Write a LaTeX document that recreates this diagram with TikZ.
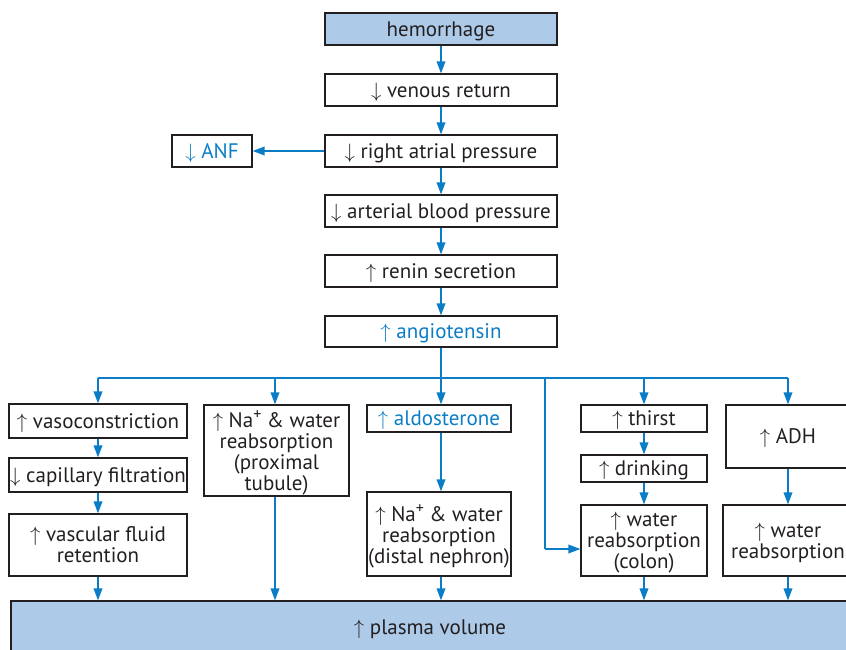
\documentclass[tikz,border=0pt]{standalone}
\usepackage{fontspec}
\setmainfont{PT Sans}
\usetikzlibrary{arrows.meta}
\definecolor{ablue}{HTML}{0A7DC6}
\definecolor{lblue}{HTML}{ADCBE8}
\definecolor{ink}{HTML}{231F20}
\newcommand\napl{Na\raisebox{0.42em}{\fontsize{16}{16}\selectfont +}}
\begin{document}
\begin{tikzpicture}[x=1pt,y=-1pt,
  box/.style={draw=ink, line width=1.1pt, inner sep=0pt, align=center, text=ink,
    text depth=0pt, font=\fontsize{21}{21}\selectfont},
  bluetext/.style={text=ablue},
  conn/.style={draw=ablue, line width=1.8pt, -{Triangle[length=12pt,width=8.5pt]}},
  trunk/.style={draw=ablue, line width=1.8pt}]
\useasboundingbox (0,0) rectangle (846,649);
\clip (0,0) rectangle (846,649);
% main column
\node[box, fill=lblue, minimum width=232, minimum height=32] (hem) at (441,29) {hemorrhage};
\node[box, minimum width=232, minimum height=32] (ven) at (441,90) {$\downarrow$ venous return};
\node[box, minimum width=232, minimum height=32] (rap) at (441,151) {$\downarrow$ right atrial pressure};
\node[box, bluetext, minimum width=80, minimum height=32] (anf) at (212,151) {$\downarrow$ ANF};
\node[box, minimum width=232, minimum height=32] (abp) at (441,211) {$\downarrow$ arterial blood pressure};
\node[box, minimum width=232, minimum height=32] (ren) at (441,271) {$\uparrow$ renin secretion};
\node[box, bluetext, minimum width=232, minimum height=31] (ang) at (441,331.5) {$\uparrow$ angiotensin};
% branches
\node[box, minimum width=178, minimum height=34] (vaso) at (98,421) {$\uparrow$ vasoconstriction};
\node[box, minimum width=178, minimum height=34] (cap) at (98,475) {$\downarrow$ capillary filtration};
\node[box, minimum width=178, minimum height=62] (vfr) at (98,545) {$\uparrow$ vascular fluid\\retention};
\node[box, minimum width=145, minimum height=91] (nap) at (276.5,450.5) {$\uparrow$ \napl{} \& water\\reabsorption\\(proximal\\tubule)};
\node[box, bluetext, minimum width=144, minimum height=27] (ald) at (439,418.5) {$\uparrow$ aldosterone};
\node[box, minimum width=144, minimum height=84] (nad) at (439,534) {$\uparrow$ \napl{} \& water\\reabsorption\\(distal nephron)};
\node[box, minimum width=126, minimum height=27] (thi) at (644,418.5) {$\uparrow$ thirst};
\node[box, minimum width=126, minimum height=27] (dri) at (644,468.5) {$\uparrow$ drinking};
\node[box, minimum width=126, minimum height=71] (wrc) at (644,540.5) {$\uparrow$ water\\reabsorption\\(colon)};
\node[box, minimum width=124, minimum height=63] (adh) at (788,436.5) {$\uparrow$ ADH};
\node[box, minimum width=130, minimum height=71] (wrr) at (788,540.5) {$\uparrow$ water\\reabsorption};
\node[box, fill=lblue, minimum width=840, minimum height=52] (pv) at (431,627) {};
\node[text=ink, font=\fontsize{21}{21}\selectfont, text depth=0pt, inner sep=0pt] (pvt) at (430,627) {$\uparrow$ plasma volume};
% connectors main column
\draw[conn] (hem) -- (ven);
\draw[conn] (ven) -- (rap);
\draw[conn] (rap) -- (anf);
\draw[conn] (rap) -- (abp);
\draw[conn] (abp) -- (ren);
\draw[conn] (ren) -- (ang);
% distribution bar
\coordinate (jc) at (441,378);
\coordinate (jl) at (98,378);
\coordinate (jr) at (788,378);
\coordinate (jn) at (275,378);
\coordinate (jt) at (644,378);
\coordinate (jk) at (545,378);
\coordinate (kk) at (545,549);
\draw[trunk] (ang) -- (jc);
\draw[trunk] (jl) -- (jr);
\draw[conn] (jl) -- (vaso);
\draw[conn] (jn) -- (jn |- nap.north);
\draw[conn] (jc) -- (jc |- ald.north);
\draw[conn] (jt) -- (thi);
\draw[conn] (jr) -- (adh);
\draw[trunk] (jk) -- (kk);
\draw[conn] (kk) -- (kk -| wrc.west);
% chains
\draw[conn] (vaso) -- (cap);
\draw[conn] (cap) -- (vfr);
\draw[conn] (ald.south -| jc) -- (jc |- nad.north);
\draw[conn] (thi) -- (dri);
\draw[conn] (dri) -- (wrc);
\draw[conn] (adh) -- (wrr);
% to plasma volume
\draw[conn] (vfr) -- (vfr |- pv.north);
\draw[conn] (jn |- nap.south) -- (jn |- pv.north);
\draw[conn] (jc |- nad.south) -- (jc |- pv.north);
\draw[conn] (wrc) -- (wrc |- pv.north);
\draw[conn] (wrr) -- (wrr |- pv.north);
\end{tikzpicture}
\end{document}
